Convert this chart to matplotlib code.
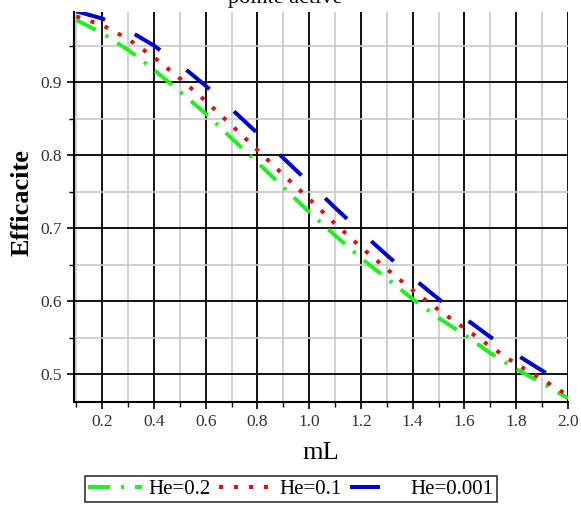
import matplotlib
matplotlib.use("Agg")
import matplotlib.pyplot as plt
from matplotlib.ticker import MultipleLocator, FormatStrFormatter

plt.rcParams['font.family'] = ['Liberation Serif', 'DejaVu Serif']
plt.rcParams['lines.scale_dashes'] = False

# fin efficiency versus mL for three tip parameters
mL = [0.1, 0.2, 0.3, 0.4, 0.5, 0.6, 0.7, 0.8, 0.9, 1.0,
      1.1, 1.2, 1.3, 1.4, 1.5, 1.6, 1.7, 1.8, 1.9, 2.0]
eff_he_02 = [0.985, 0.967, 0.944, 0.917, 0.887, 0.857, 0.823, 0.790, 0.756, 0.722,
             0.690, 0.659, 0.631, 0.603, 0.577, 0.554, 0.529, 0.507, 0.488, 0.467]
eff_he_01 = [0.990, 0.978, 0.959, 0.934, 0.905, 0.874, 0.841, 0.807, 0.773, 0.740,
             0.706, 0.674, 0.644, 0.615, 0.588, 0.563, 0.538, 0.514, 0.493, 0.471]
eff_he_0001 = [0.997, 0.987, 0.971, 0.950, 0.924, 0.895, 0.863, 0.830, 0.796, 0.762,
               0.728, 0.695, 0.663, 0.632, 0.603, 0.577, 0.551, 0.527, 0.505, 0.482]
labels = ['He=0.2', 'He=0.1', 'He=0.001']

W, H = 581, 507
fig = plt.figure(figsize=(W / 100, H / 100), dpi=100)
ax = fig.add_axes([74 / W, 105 / H, (568 - 74) / W, (402 - 12) / H])

px = 0.72  # points per pixel
lw = 4 * px
ax.plot(mL, eff_he_02, color='#22ee22', lw=lw, label=labels[0],
        linestyle=(0, (22 * px, 11 * px, 3 * px, 11 * px)), zorder=3)
ax.plot(mL, eff_he_01, color='#dd1111', lw=lw, label=labels[1],
        linestyle=(0, (4 * px, 11 * px)), zorder=3)
ax.plot(mL, eff_he_0001, color='#0000cc', lw=lw, label=labels[2],
        linestyle=(0, (30 * px, 33 * px)), zorder=3)

ax.set_xlim(0.091, 2.0)
ax.set_ylim(0.462, 0.996)
ax.xaxis.set_major_locator(MultipleLocator(0.2))
ax.xaxis.set_minor_locator(MultipleLocator(0.1))
ax.yaxis.set_major_locator(MultipleLocator(0.1))
ax.yaxis.set_minor_locator(MultipleLocator(0.05))
ax.xaxis.set_major_formatter(FormatStrFormatter('%.1f'))
ax.yaxis.set_major_formatter(FormatStrFormatter('%.1f'))

ax.grid(which='major', color='#111111', lw=1.4, zorder=1)
ax.grid(which='minor', color='#c8c8c8', lw=1.2, zorder=0)
ax.set_axisbelow(True)

for s in ['top', 'right']:
    ax.spines[s].set_visible(False)
for s in ['left', 'bottom']:
    ax.spines[s].set_linewidth(1.5)
    ax.spines[s].set_color('black')

ax.tick_params(which='major', direction='out', length=5, width=1.2,
               labelsize=12.5, labelcolor='#333333', pad=4)
ax.tick_params(which='minor', direction='out', length=3.5, width=1.0)

ax.set_xlabel('mL', fontsize=19, labelpad=8)
fig.text(22 / W, 1 - 203 / H, 'Efficacite', rotation=90, fontsize=19,
         fontweight='bold', ha='center', va='center')

fig.text(285 / W, 1 - 3 / H, 'pointe active', fontsize=16,
         ha='center', va='baseline')

leg = fig.legend(loc='center', bbox_to_anchor=(291 / W, 18 / H), ncol=3,
                 fontsize=15, handlelength=2.6, handletextpad=0.3,
                 columnspacing=0.4, borderpad=0.15, frameon=True,
                 fancybox=False)
leg.get_frame().set_edgecolor('black')
leg.get_frame().set_linewidth(1.2)

fig.savefig('out.png', dpi=100)
